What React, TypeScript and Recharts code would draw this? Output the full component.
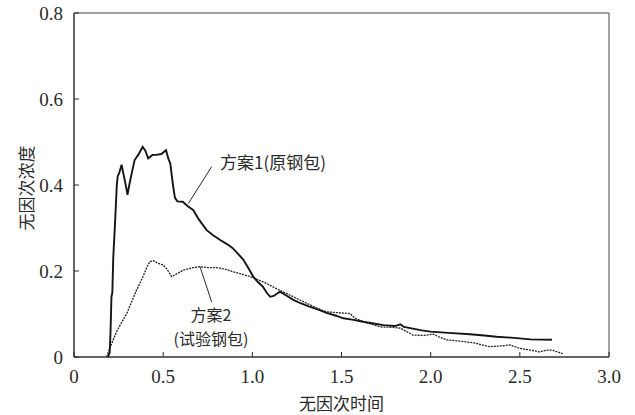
import React from 'react';
import { LineChart, Line, XAxis, YAxis, ReferenceArea, ReferenceLine, ReferenceDot } from 'recharts';

const xTicks = [0, 0.5, 1.0, 1.5, 2.0, 2.5, 3.0];
const yTicks = [0, 0.2, 0.4, 0.6, 0.8];

const plan1T = [0.19, 0.2, 0.205, 0.21, 0.215, 0.22, 0.23, 0.24, 0.245, 0.255, 0.267, 0.28, 0.29, 0.3, 0.31, 0.325, 0.34, 0.36, 0.385, 0.4, 0.416, 0.44, 0.46, 0.49, 0.516, 0.53, 0.54, 0.555, 0.566, 0.58, 0.61, 0.64, 0.668, 0.7, 0.744, 0.78, 0.82, 0.86, 0.89, 0.92, 0.95, 0.98, 1.005, 1.03, 1.06, 1.08, 1.1, 1.12, 1.155, 1.19, 1.23, 1.27, 1.32, 1.37, 1.42, 1.47, 1.51, 1.56, 1.62, 1.68, 1.735, 1.8, 1.83, 1.85, 1.9, 1.95, 2.0, 2.1, 2.22, 2.3, 2.37, 2.45, 2.56, 2.68];
const plan1C = [0, 0.01, 0.06, 0.14, 0.15, 0.23, 0.31, 0.4, 0.42, 0.43, 0.447, 0.42, 0.4, 0.377, 0.4, 0.43, 0.458, 0.47, 0.489, 0.48, 0.462, 0.47, 0.47, 0.472, 0.481, 0.46, 0.45, 0.4, 0.37, 0.362, 0.361, 0.35, 0.342, 0.32, 0.295, 0.283, 0.272, 0.262, 0.253, 0.24, 0.226, 0.205, 0.187, 0.175, 0.163, 0.15, 0.14, 0.142, 0.152, 0.143, 0.133, 0.125, 0.117, 0.11, 0.102, 0.096, 0.09, 0.087, 0.082, 0.078, 0.074, 0.072, 0.076, 0.07, 0.066, 0.062, 0.059, 0.056, 0.053, 0.05, 0.047, 0.045, 0.041, 0.04];

const plan2T = [0.183, 0.2, 0.22, 0.24, 0.26, 0.28, 0.295, 0.31, 0.33, 0.35, 0.37, 0.39, 0.41, 0.426, 0.445, 0.47, 0.5, 0.52, 0.548, 0.57, 0.613, 0.66, 0.707, 0.75, 0.8, 0.85, 0.893, 0.94, 0.987, 1.03, 1.08, 1.13, 1.19, 1.25, 1.305, 1.36, 1.417, 1.48, 1.548, 1.576, 1.64, 1.716, 1.78, 1.83, 1.87, 1.9, 1.96, 2.015, 2.05, 2.09, 2.16, 2.24, 2.33, 2.4, 2.445, 2.5, 2.56, 2.61, 2.65, 2.68, 2.74];
const plan2C = [0, 0.02, 0.04, 0.06, 0.075, 0.09, 0.1, 0.115, 0.135, 0.155, 0.172, 0.19, 0.21, 0.222, 0.224, 0.218, 0.214, 0.205, 0.187, 0.192, 0.202, 0.207, 0.21, 0.208, 0.208, 0.204, 0.198, 0.193, 0.187, 0.18, 0.171, 0.16, 0.148, 0.136, 0.125, 0.114, 0.105, 0.103, 0.101, 0.09, 0.08, 0.07, 0.069, 0.067, 0.058, 0.051, 0.05, 0.053, 0.046, 0.04, 0.037, 0.033, 0.024, 0.026, 0.028, 0.02, 0.016, 0.012, 0.016, 0.016, 0.008];

const plan1 = plan1T.map((t, i) => ({ t, c: plan1C[i] }));
const plan2 = plan2T.map((t, i) => ({ t, c: plan2C[i] }));

const FONT = '"Times New Roman", "Liberation Serif", "DejaVu Serif", serif';
const CJK = '"Noto Sans CJK SC", "Liberation Serif", serif';
const INK = '#2a2a2a';

const fmt = (v: number) => (v === 0 ? '0' : v.toFixed(1));

const YTick = (props: any) => {
  const { x, y, payload } = props;
  return (
    <g>
      <line x1={x + 11} x2={x + 16} y1={y} y2={y} stroke={INK} strokeWidth={1} />
      <text x={x} y={y} textAnchor="end" dominantBaseline="central" fill={INK} fontFamily={FONT} fontSize={19} style={{ fontFamily: FONT }}>
        {fmt(payload.value)}
      </text>
    </g>
  );
};

const XTick = (props: any) => {
  const { x, y, payload } = props;
  return (
    <g>
      <line x1={x} x2={x} y1={y} y2={y - 5} stroke={INK} strokeWidth={1} />
      <text x={x} y={y + 19} textAnchor="middle" dominantBaseline="central" fill={INK} fontFamily={FONT} fontSize={19} style={{ fontFamily: FONT }}>
        {fmt(payload.value)}
      </text>
    </g>
  );
};

const YLabel = (props: any) => {
  const vb = props.viewBox;
  const cx = vb.x + 25;
  const cy = vb.y + vb.height / 2 + 3;
  return (
    <text x={cx} y={cy} textAnchor="middle" dominantBaseline="central" fill={INK} transform={`rotate(-90 ${cx} ${cy})`} style={{ fontFamily: CJK, fontSize: 17 }}>
      无因次浓度
    </text>
  );
};

const XLabel = (props: any) => {
  const vb = props.viewBox;
  return (
    <text x={vb.x + vb.width / 2} y={vb.y + 45} textAnchor="middle" dominantBaseline="central" fill={INK} style={{ fontFamily: CJK, fontSize: 17 }}>
      无因次时间
    </text>
  );
};

const TextLabel = (text: string, size: number) => (props: any) => {
  const vb = props.viewBox;
  const cx = vb.cx !== undefined ? vb.cx : vb.x + (vb.width || 0) / 2;
  const cy = vb.cy !== undefined ? vb.cy : vb.y + (vb.height || 0) / 2;
  return (
    <text x={cx} y={cy} textAnchor="middle" dominantBaseline="central" fill={INK} style={{ fontFamily: CJK, fontSize: size }}>
      {text}
    </text>
  );
};

export default function App() {
  return (
    <div style={{ position: 'absolute', left: 0, top: 0, background: '#fff' }}>
      <LineChart width={635} height={415} margin={{ top: 13, right: 26, left: 0, bottom: 0 }}>
        <XAxis
          dataKey="t"
          type="number"
          domain={[0, 3]}
          ticks={xTicks}
          height={58}
          tickSize={0}
          tickMargin={0}
          tick={<XTick />}
          axisLine={{ stroke: INK }}
          label={<XLabel />}
          allowDataOverflow
        />
        <YAxis
          type="number"
          domain={[0, 0.8]}
          ticks={yTicks}
          width={74}
          tickSize={0}
          tickMargin={11}
          tick={<YTick />}
          axisLine={{ stroke: INK }}
          label={<YLabel />}
        />
        <ReferenceArea x1={0} x2={3} y1={0} y2={0.8} fill="none" stroke="#444" strokeWidth={1} ifOverflow="visible" />
        <Line data={plan2} dataKey="c" type="linear" stroke="#222" strokeWidth={1.3} strokeDasharray="2 1" dot={false} isAnimationActive={false} />
        <Line data={plan1} dataKey="c" type="linear" stroke="#151515" strokeWidth={1.9} dot={false} isAnimationActive={false} />
        <ReferenceLine segment={[{ x: 0.772, y: 0.4426 }, { x: 0.641, y: 0.357 }]} stroke={INK} strokeWidth={1} />
        <ReferenceLine segment={[{ x: 0.7066, y: 0.21 }, { x: 0.772, y: 0.128 }]} stroke={INK} strokeWidth={1} />
        <ReferenceDot x={1.116} y={0.454} r={0} fill="none" stroke="none" label={TextLabel('方案1(原钢包)', 17)} />
        <ReferenceDot x={0.768} y={0.1} r={0} fill="none" stroke="none" label={TextLabel('方案2', 16)} />
        <ReferenceDot x={0.768} y={0.044} r={0} fill="none" stroke="none" label={TextLabel('(试验钢包)', 16)} />
      </LineChart>
    </div>
  );
}
